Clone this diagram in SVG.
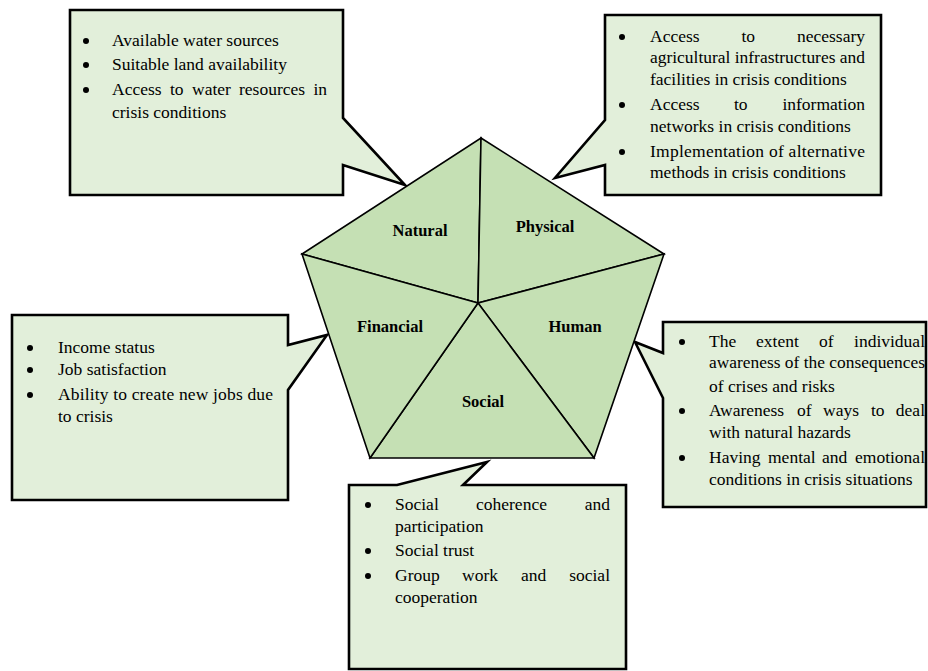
<svg xmlns="http://www.w3.org/2000/svg" width="928" height="671" viewBox="0 0 928 671">
<style>
.callout{fill:#e2efda;stroke:#000;stroke-width:2.6;stroke-linejoin:miter}
.sector{fill:#c5e0b4;stroke:#000;stroke-width:1.6;stroke-linejoin:miter}
.t{font-family:"Liberation Serif","Times New Roman",serif;font-size:17.5px;fill:#000}
.e{text-anchor:end}
.lbl{font-family:"Liberation Serif","Times New Roman",serif;font-size:16.5px;font-weight:bold;fill:#000;text-anchor:middle}
.b{fill:#000}
</style>
<rect width="928" height="671" fill="#fff"/>
<g id="connectors">
</g>
<g id="natural-callout">
<path class="callout" d="M70,10 L343,10 L343,118 L405,185 L343,165 L343,195 L70,195 Z"/>
<circle class="b" cx="86" cy="41" r="3"/>
<circle class="b" cx="86" cy="65" r="3"/>
<circle class="b" cx="86" cy="90" r="3"/>
<text class="t" x="112" y="46">Available water sources</text>
<text class="t" x="112" y="70">Suitable land availability</text>
<text class="t" x="112" y="95">Access</text>
<text class="t" x="170" y="95">to</text>
<text class="t" x="192" y="95">water</text>
<text class="t" x="239" y="95">resources</text>
<text class="t e" x="327" y="95">in</text>
<text class="t" x="112" y="118">crisis conditions</text>
</g>
<g id="physical-callout">
<path class="callout" d="M605,15 L881,15 L881,195 L605,195 L605,165 L555,178 L605,120 Z"/>
<circle class="b" cx="622" cy="37" r="3"/>
<circle class="b" cx="622" cy="105" r="3"/>
<circle class="b" cx="622" cy="152" r="3"/>
<text class="t" x="650" y="42">Access</text>
<text class="t" x="741.5" y="42">to</text>
<text class="t e" x="865" y="42">necessary</text>
<text class="t" x="650" y="63" textLength="215" lengthAdjust="spacingAndGlyphs">agricultural infrastructures and</text>
<text class="t" x="650" y="85">facilities in crisis conditions</text>
<text class="t" x="650" y="110">Access</text>
<text class="t" x="734" y="110">to</text>
<text class="t e" x="865" y="110">information</text>
<text class="t" x="650" y="132">networks in crisis conditions</text>
<text class="t" x="650" y="157" textLength="215" lengthAdjust="spacing">Implementation of alternative</text>
<text class="t" x="650" y="178">methods in crisis conditions</text>
</g>
<g id="financial-callout">
<path class="callout" d="M12,315 L288,315 L288,345 L327,335 L288,390 L288,500 L12,500 Z"/>
<circle class="b" cx="30" cy="348" r="3"/>
<circle class="b" cx="30" cy="370" r="3"/>
<circle class="b" cx="30" cy="395" r="3"/>
<text class="t" x="58" y="353">Income status</text>
<text class="t" x="58" y="375">Job satisfaction</text>
<text class="t" x="58" y="400" textLength="215" lengthAdjust="spacing">Ability to create new jobs due</text>
<text class="t" x="58" y="422">to crisis</text>
</g>
<g id="human-callout">
<path class="callout" d="M663,322 L926,322 L926,507 L663,507 L663,398 L635,342 L663,353 Z"/>
<circle class="b" cx="682" cy="342" r="3"/>
<circle class="b" cx="682" cy="411" r="3"/>
<circle class="b" cx="682" cy="458" r="3"/>
<text class="t" x="709" y="347">The</text>
<text class="t" x="756" y="347">extent</text>
<text class="t" x="819" y="347">of</text>
<text class="t e" x="925" y="347">individual</text>
<text class="t" x="709" y="368" textLength="216" lengthAdjust="spacingAndGlyphs">awareness of the consequences</text>
<text class="t" x="709" y="392">of crises and risks</text>
<text class="t" x="709" y="416">Awareness</text>
<text class="t" x="797" y="416">of</text>
<text class="t" x="823" y="416">ways</text>
<text class="t" x="871" y="416">to</text>
<text class="t e" x="925" y="416">deal</text>
<text class="t" x="709" y="438">with natural hazards</text>
<text class="t" x="709" y="463">Having</text>
<text class="t" x="768" y="463">mental</text>
<text class="t" x="822" y="463">and</text>
<text class="t e" x="925" y="463">emotional</text>
<text class="t" x="709" y="485">conditions in crisis situations</text>
</g>
<g id="social-callout">
<path class="callout" d="M349,485 L397,485 L487,462 L463,485 L626,485 L626,669 L349,669 Z"/>
<circle class="b" cx="368" cy="505" r="3"/>
<circle class="b" cx="368" cy="551" r="3"/>
<circle class="b" cx="368" cy="576" r="3"/>
<text class="t" x="395" y="510">Social</text>
<text class="t" x="476" y="510">coherence</text>
<text class="t e" x="610" y="510">and</text>
<text class="t" x="395" y="532">participation</text>
<text class="t" x="395" y="556">Social trust</text>
<text class="t" x="395" y="581">Group</text>
<text class="t" x="462" y="581">work</text>
<text class="t" x="521" y="581">and</text>
<text class="t e" x="610" y="581">social</text>
<text class="t" x="395" y="603">cooperation</text>
</g>
<g id="natural">
<polygon class="sector" points="481,138 478,303 302,254"/>
<text class="lbl" x="420" y="236">Natural</text>
</g>
<g id="physical">
<polygon class="sector" points="481,138 664,254 478,303"/>
<text class="lbl" x="545" y="232">Physical</text>
</g>
<g id="human">
<polygon class="sector" points="664,254 594,458 478,303"/>
<text class="lbl" x="575" y="332">Human</text>
</g>
<g id="social">
<polygon class="sector" points="594,458 370,458 478,303"/>
<text class="lbl" x="483" y="407">Social</text>
</g>
<g id="financial">
<polygon class="sector" points="370,458 302,254 478,303"/>
<text class="lbl" x="390" y="332">Financial</text>
</g>
</svg>
